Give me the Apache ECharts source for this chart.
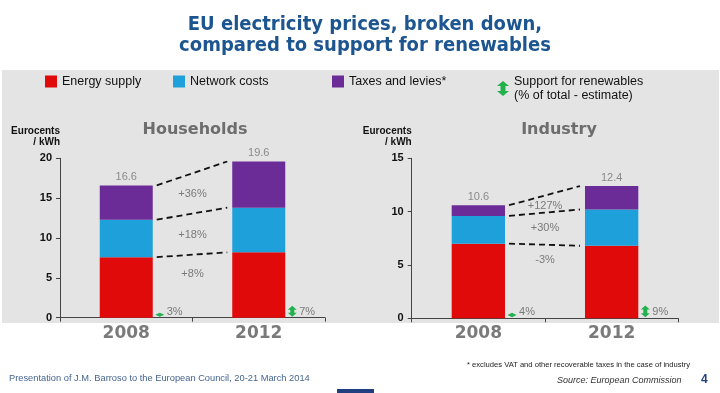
<!DOCTYPE html>
<html>
<head>
<meta charset="utf-8">
<script src="https://cdn.jsdelivr.net/npm/echarts@6/dist/echarts.min.js"></script>
<style>
html,body{margin:0;padding:0;background:#ffffff;}
#chart{width:720px;height:393px;}
</style>
</head>
<body>
<div id="chart"></div>
<script>
// ---- data ----
const categories = ['2008', '2012'];
const hhEnergy  = [7.6, 8.2];
const hhNetwork = [4.7, 5.6];
const hhTaxes   = [4.3, 5.8];
const hhTotals  = [16.6, 19.6];
const hhChange  = ['+8%', '+18%', '+36%'];
const hhRenew   = [3, 7];
const indEnergy  = [7.0, 6.8];
const indNetwork = [2.6, 3.4];
const indTaxes   = [1.0, 2.2];
const indTotals  = [10.6, 12.4];
const indChange  = ['-3%', '+30%', '+127%'];
const indRenew   = [4, 9];
const hhAxisMax = 20;
const indAxisMax = 15;
const axisInterval = 5;

// ---- style ----
const C_RED = '#e00a0a', C_BLUE = '#1ea0da', C_PURPLE = '#6b2c98', C_GREEN = '#22b14c';
const SANS = 'Liberation Sans, Arial, sans-serif';
const ARROW_PATH = 'path://M6,0 L12,5 L8.5,5 L8.5,10 L12,10 L6,15 L0,10 L3.5,10 L3.5,5 L0,5 Z';

function cumulative(layers) {
  const out = []; let acc = [0, 0];
  layers.forEach(l => { acc = [acc[0] + l[0], acc[1] + l[1]]; out.push(acc.slice()); });
  return out;
}

function connectorSeries(gridIdx, layers, changes, drops) {
  const cum = cumulative(layers);
  return {
    type: 'custom', xAxisIndex: gridIdx, yAxisIndex: gridIdx, silent: true, z: 5,
    encode: { x: 0, y: 1 },
    data: cum.map(c => [0, c[0], c[1]]),
    renderItem: function (params, api) {
      const p0 = api.coord([0, api.value(1)]);
      const p1 = api.coord([1, api.value(2)]);
      const band = api.size([1, 0])[0];
      const hb = band * 0.2;
      const x0 = p0[0] + hb + 4, x1 = p1[0] - hb - 5;
      const t = (x0 + x1) / 2;
      const midY = p0[1] + (p1[1] - p0[1]) * ((t - x0) / (x1 - x0));
      const cx = (p0[0] + p1[0]) / 2;
      return {
        type: 'group', children: [
          { type: 'line', shape: { x1: x0, y1: p0[1], x2: x1, y2: p1[1] },
            style: { stroke: '#111', lineWidth: 1.8, lineDash: [6, 4] } },
          { type: 'text', style: { x: cx, y: midY + drops[params.dataIndex],
            text: changes[params.dataIndex], fill: '#7a7a7a', font: '11px ' + SANS,
            align: 'center', verticalAlign: 'middle' } }
        ]
      };
    }
  };
}

function renewSeries(gridIdx, totals, pcts) {
  return {
    type: 'custom', name: 'Support for renewables', xAxisIndex: gridIdx, yAxisIndex: gridIdx,
    silent: true, z: 6, itemStyle: { color: C_GREEN },
    encode: { x: 0, y: 1 },
    data: totals.map((t, i) => [i, 0, t, pcts[i]]),
    renderItem: function (params, api) {
      const i = api.value(0);
      const base = api.coord([i, 0]);
      const band = api.size([1, 0])[0];
      const h = api.size([0, api.value(2) * api.value(3) / 100])[1];
      const cx = base[0] + band * 0.2 + 7;
      const y0 = base[1] - 1, y1 = y0 - h;
      const hl = Math.min(4, h / 2), w = 4.5, s = 2;
      const pts = [[cx, y1], [cx + w, y1 + hl], [cx + s, y1 + hl], [cx + s, y0 - hl], [cx + w, y0 - hl],
                   [cx, y0], [cx - w, y0 - hl], [cx - s, y0 - hl], [cx - s, y1 + hl], [cx - w, y1 + hl]];
      return {
        type: 'group', children: [
          { type: 'polygon', shape: { points: pts }, style: { fill: C_GREEN } },
          { type: 'text', style: { x: cx + 7, y: y0 - 5, text: api.value(3) + '%',
            fill: '#7a7a7a', font: '11px ' + SANS, align: 'left', verticalAlign: 'middle' } }
        ]
      };
    }
  };
}

function barSeries(gridIdx, stack, name, color, values, totals) {
  const s = {
    type: 'bar', name: name, stack: stack, xAxisIndex: gridIdx, yAxisIndex: gridIdx,
    barWidth: '40%', itemStyle: { color: color }, data: values, silent: true
  };
  if (totals) {
    s.label = { show: true, position: 'top', distance: 3, color: '#8a8a8a', fontSize: 11,
      fontFamily: SANS, formatter: p => totals[p.dataIndex].toFixed(1) };
  }
  return s;
}

function xAxis(gridIdx) {
  return {
    type: 'category', gridIndex: gridIdx, data: categories,
    axisLine: { lineStyle: { color: '#444', width: 1 } },
    axisTick: { show: true, length: 4, lineStyle: { color: '#444' } },
    axisLabel: { color: '#7a7a7a', fontWeight: 'bold', fontSize: 17, fontFamily: 'DejaVu Sans', margin: 7 }
  };
}
function yAxis(gridIdx, max) {
  return {
    type: 'value', gridIndex: gridIdx, min: 0, max: max, interval: axisInterval,
    name: 'Eurocents\n/ kWh', nameLocation: 'end', nameGap: 11,
    nameTextStyle: { align: 'right', color: '#111', fontSize: 10, fontWeight: 'bold', fontFamily: SANS, lineHeight: 11 },
    axisLine: { show: true, lineStyle: { color: '#444', width: 1 } },
    axisTick: { show: true, length: 4, lineStyle: { color: '#444' } },
    splitLine: { show: false },
    axisLabel: { color: '#111', fontWeight: 'bold', fontSize: 11, fontFamily: SANS, margin: 8 }
  };
}

const legendText = { fontSize: 12.5, color: '#111', fontFamily: SANS };
function legend(left, name, top) {
  return { left: left, top: top, padding: 0, itemWidth: 12, itemHeight: 12, itemGap: 0,
    icon: 'rect', selectedMode: false, data: [name], textStyle: legendText };
}

const option = {
  animation: false,
  backgroundColor: '#ffffff',
  title: [
    { text: 'EU electricity prices, broken down,\ncompared to support for renewables', left: 360, top: 9,
      textAlign: 'center',
      textStyle: { color: '#1d5590', fontSize: 20, fontWeight: 'bold',
        fontFamily: 'DejaVu Sans Condensed, Liberation Sans, sans-serif', lineHeight: 21.5 } },
    { text: 'Households', left: 190, top: 117, textAlign: 'center',
      textStyle: { color: '#6d6d6d', fontSize: 16, fontWeight: 'bold', fontFamily: 'DejaVu Sans' } },
    { text: 'Industry', left: 554, top: 117, textAlign: 'center',
      textStyle: { color: '#6d6d6d', fontSize: 16, fontWeight: 'bold', fontFamily: 'DejaVu Sans' } }
  ],
  legend: [
    legend(45, 'Energy supply', 75),
    legend(173, 'Network costs', 75),
    legend(332, 'Taxes and levies*', 75),
    { left: 497, top: 69, padding: 0, itemWidth: 12, itemHeight: 15, selectedMode: false,
      data: [{ name: 'Support for renewables', icon: ARROW_PATH }],
      formatter: n => n + '\n(% of total - estimate)',
      textStyle: Object.assign({}, legendText, { lineHeight: 14, padding: [11, 0, 0, 0] }) }
  ],
  grid: [
    { left: 60, top: 158.3, width: 265, height: 159.4 },
    { left: 411.7, top: 158.3, width: 266.6, height: 160 }
  ],
  xAxis: [xAxis(0), xAxis(1)],
  yAxis: [yAxis(0, hhAxisMax), yAxis(1, indAxisMax)],
  graphic: [
    { type: 'rect', z: -10, silent: true, shape: { x: 2, y: 70, width: 717, height: 253 },
      style: { fill: '#e4e4e4' } },
    { type: 'text', left: 467, top: 361, silent: true,
      style: { text: '* excludes VAT and other recoverable taxes in the case of industry',
        fill: '#222', font: '7.6px ' + SANS } },
    { type: 'text', left: 9, top: 374, silent: true,
      style: { text: 'Presentation of J.M. Barroso to the European Council, 20-21 March 2014',
        fill: '#456590', font: '9.3px ' + SANS } },
    { type: 'text', left: 557, top: 376, silent: true,
      style: { text: 'Source: European Commission', fill: '#333', font: 'italic 9px ' + SANS } },
    { type: 'text', left: 701, top: 374, silent: true,
      style: { text: '4', fill: '#1f3f7f', font: 'bold 12px ' + SANS } },
    { type: 'rect', silent: true, shape: { x: 337, y: 389, width: 37, height: 4 },
      style: { fill: '#1f3f7f' } }
  ],
  series: [
    barSeries(0, 'hh', 'Energy supply', C_RED, hhEnergy),
    barSeries(0, 'hh', 'Network costs', C_BLUE, hhNetwork),
    barSeries(0, 'hh', 'Taxes and levies*', C_PURPLE, hhTaxes, hhTotals),
    barSeries(1, 'ind', 'Energy supply', C_RED, indEnergy),
    barSeries(1, 'ind', 'Network costs', C_BLUE, indNetwork),
    barSeries(1, 'ind', 'Taxes and levies*', C_PURPLE, indTaxes, indTotals),
    connectorSeries(0, [hhEnergy, hhNetwork, hhTaxes], hhChange, [19, 21, 21]),
    connectorSeries(1, [indEnergy, indNetwork, indTaxes], indChange, [15, 15, 10]),
    renewSeries(0, hhTotals, hhRenew),
    renewSeries(1, indTotals, indRenew)
  ]
};

const chart = echarts.init(document.getElementById('chart'), null, { renderer: 'canvas' });
chart.setOption(option);
</script>
</body>
</html>
